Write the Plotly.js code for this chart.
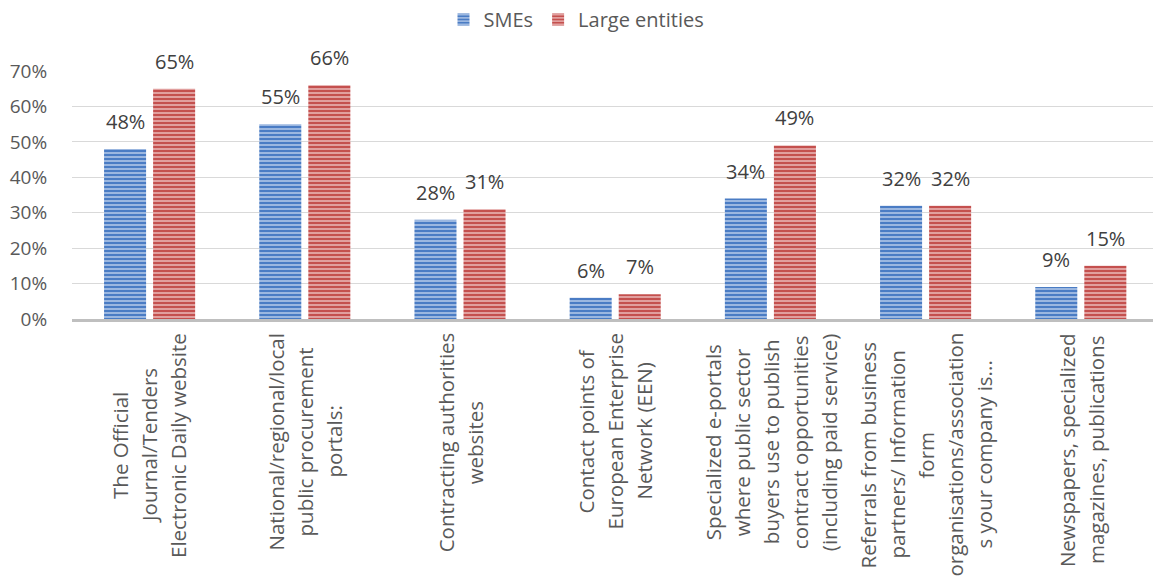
<!DOCTYPE html>
<html>
<head>
<meta charset="utf-8">
<script src="https://cdn.plot.ly/plotly-3.0.1.min.js"></script>
<style>
  html, body { margin: 0; padding: 0; background: #ffffff; }
  #chart { width: 1153px; height: 579px; }
</style>
</head>
<body>
<div id="chart"></div>
<script>
// ---- data ----
const categories = [
  "The Official<br>Journal/Tenders<br>Electronic Daily website",
  "National/regional/local<br>public procurement<br>portals:",
  "Contracting authorities<br>websites",
  "Contact points of<br>European Enterprise<br>Network (EEN)",
  "Specialized e-portals<br>where public sector<br>buyers use to publish<br>contract opportunities<br>(including paid service)",
  "Referrals from business<br>partners/ Information<br>form<br>organisations/association<br>s your company is...",
  "Newspapers, specialized<br>magazines, publications"
];
const smes = [48, 55, 28, 6, 34, 32, 9];
const large = [65, 66, 31, 7, 49, 32, 15];
const seriesNames = ["SMEs", "Large entities"];
const yTickVals = [0, 10, 20, 30, 40, 50, 60, 70];
const yTickText = ["0%", "10%", "20%", "30%", "40%", "50%", "60%", "70%"];

// ---- layout constants ----
const W = 1153, H = 579;
const mL = 72, mR = 0, mT = 71, mB = 260;
const FONT = '"Open Sans", "DejaVu Sans", sans-serif';
const LABEL_SIZE = 20.5;
const LINE_GAP = 29;
const bargap = 0.368, bargroupgap = 0.143;

const xs = categories.map((_, i) => i);
const plotW = W - mL - mR;
const catPx = 155.2;
const xMax = plotW / catPx - 0.5;
const slot = (1 - bargap) / 2;

const blue = '#4a7cc4', blueLight = '#bed1ec';
const red = '#c4504e', redLight = '#eec2c1';

const traces = [
  {
    type: 'bar', name: seriesNames[0], x: xs, y: smes,
    marker: { color: blue, line: { width: 0 },
      pattern: { shape: '-', bgcolor: blue, fgcolor: blueLight, size: 4, solidity: 0.35, fillmode: 'replace' } },
    hoverinfo: 'skip'
  },
  {
    type: 'bar', name: seriesNames[1], x: xs, y: large,
    marker: { color: red, line: { width: 0 },
      pattern: { shape: '-', bgcolor: red, fgcolor: redLight, size: 4, solidity: 0.35, fillmode: 'replace' } },
    hoverinfo: 'skip'
  }
];

// measure text
const cv = document.createElement('canvas');
const ctx = cv.getContext('2d');
ctx.font = LABEL_SIZE + 'px ' + FONT;

const annotations = [];
// value labels
[smes, large].forEach((vals, s) => {
  vals.forEach((v, i) => {
    annotations.push({
      x: i + (s === 0 ? -slot / 2 : slot / 2), y: v, xref: 'x', yref: 'y',
      text: v + '%', showarrow: false, yanchor: 'bottom', yshift: 12,
      font: { family: FONT, size: 20, color: '#404040' }
    });
  });
});
// category labels (rotated, centred lines, top-anchored block)
categories.forEach((c, i) => {
  const lines = c.split('<br>');
  const longest = Math.max(...lines.map(l => ctx.measureText(l).width));
  const n = lines.length;
  lines.forEach((ln, k) => {
    annotations.push({
      x: i, y: 0, xref: 'x', yref: 'paper',
      text: ln, showarrow: false, textangle: -90,
      xanchor: 'center', yanchor: 'middle',
      xshift: (k - (n - 1) / 2) * LINE_GAP,
      yshift: -(14 + longest / 2),
      font: { family: FONT, size: LABEL_SIZE, color: '#595959' }
    });
  });
});

const layout = {
  width: W, height: H,
  margin: { l: mL, r: mR, t: mT, b: mB, pad: 0 },
  paper_bgcolor: '#ffffff', plot_bgcolor: '#ffffff',
  barmode: 'group', bargap: bargap, bargroupgap: bargroupgap,
  font: { family: FONT, color: '#595959' },
  showlegend: true,
  legend: {
    orientation: 'h', x: 0.5, xref: 'container', xanchor: 'center',
    y: 1, yref: 'container', yanchor: 'top',
    font: { family: FONT, size: 20, color: '#595959' },
    itemwidth: 30, tracegroupgap: 0
  },
  xaxis: {
    type: 'linear', range: [-0.5, xMax], showticklabels: false, ticks: '',
    showgrid: false, zeroline: false, showline: true, linecolor: '#bfbfbf', linewidth: 3,
    fixedrange: true
  },
  yaxis: {
    range: [0, 70], tickvals: yTickVals, ticktext: yTickText,
    showgrid: true, gridcolor: '#d9d9d9', gridwidth: 1, zeroline: false,
    ticks: 'outside', ticklen: 20, tickcolor: 'rgba(0,0,0,0)',
    tickfont: { family: FONT, size: 19, color: '#595959' },
    fixedrange: true
  },
  annotations: annotations
};

Plotly.newPlot('chart', traces, layout, { displayModeBar: false, staticPlot: true });
</script>
</body>
</html>
